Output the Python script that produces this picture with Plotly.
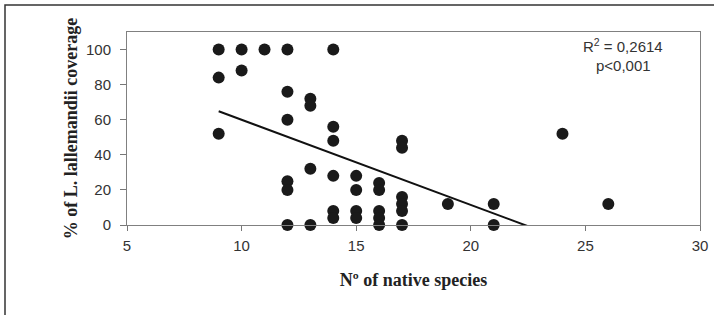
import numpy as np
import plotly.graph_objects as go

# Data
native_species = [9, 9, 9,
                  10, 10,
                  11,
                  12, 12, 12, 12, 12, 12,
                  13, 13, 13, 13,
                  14, 14, 14, 14, 14, 14,
                  15, 15, 15, 15,
                  16, 16, 16, 16, 16,
                  17, 17, 17, 17, 17, 17,
                  19,
                  21, 21,
                  24,
                  26]
coverage = [100, 84, 52,
            100, 88,
            100,
            100, 76, 60, 25, 20, 0,
            72, 68, 32, 0,
            100, 56, 48, 28, 8, 4,
            28, 20, 8, 4,
            24, 20, 8, 4, 0,
            48, 44, 16, 12, 8, 0,
            12,
            12, 0,
            52,
            12]
x_ticks = [5, 10, 15, 20, 25, 30]
y_ticks = [0, 20, 40, 60, 80, 100]

# Linear trendline fitted on the data
slope, intercept = np.polyfit(native_species, coverage, 1)
trend_x = np.array([min(native_species), max(native_species)])
trend_y = slope * trend_x + intercept

W, H = 714, 315
L, R, T, B = 127, 14, 32, 90
pw, ph = W - L - R, H - T - B

fig = go.Figure()
fig.add_trace(go.Scatter(x=trend_x, y=trend_y, mode="lines",
                         line=dict(color="#111111", width=2),
                         hoverinfo="skip", showlegend=False))
fig.add_trace(go.Scatter(x=native_species, y=coverage, mode="markers",
                         marker=dict(size=12, color="#1a1a1a"),
                         cliponaxis=False, showlegend=False))

axis_font = dict(family="Liberation Sans, Arial, sans-serif", size=15, color="#333333")
title_font = dict(family="Liberation Serif, Times New Roman, serif", size=18, color="#222222")

fig.update_xaxes(range=[5, 30], tickvals=x_ticks, ticks="outside", ticklen=5,
                 tickcolor="#777777", showline=True, linecolor="#808080", linewidth=1,
                 mirror=True, showgrid=False, zeroline=False, tickfont=axis_font,
                 ticklabelstandoff=2, automargin=False,
                 title=dict(text="<b>Nº of native species</b>", font=title_font, standoff=20))
fig.update_yaxes(range=[0, 110], tickvals=y_ticks, ticks="outside", ticklen=6,
                 tickcolor="#777777", showline=True, linecolor="#808080", linewidth=1,
                 mirror=True, showgrid=False, zeroline=False, tickfont=axis_font,
                 ticklabelstandoff=6, automargin=False,
                 title=dict(text="<b>% of L. lallemandii coverage</b>", font=title_font, standoff=3))

ann_font = dict(family="Liberation Sans, Arial, sans-serif", size=15, color="#333333")
fig.add_annotation(xref="paper", yref="paper", x=0.866, y=(225 - 45) / ph,
                   xanchor="center", yanchor="middle",
                   text="R<sup>2</sup> = 0,2614", showarrow=False, font=ann_font)
fig.add_annotation(xref="paper", yref="paper", x=0.866, y=(225 - 65) / ph,
                   xanchor="center", yanchor="middle",
                   text="p<0,001", showarrow=False, font=ann_font)

# Outer frame of the chart (extends past right/bottom edges)
fig.add_shape(type="rect", xref="paper", yref="paper",
              x0=(5 - L) / pw, x1=(725 - L) / pw,
              y0=(225 - 325) / ph, y1=(225 - 5) / ph,
              line=dict(color="#333333", width=1.5), layer="below")

fig.update_layout(width=W, height=H, margin=dict(l=L, r=R, t=T, b=B),
                  plot_bgcolor="white", paper_bgcolor="white")

fig.write_html("out.html", config={"displayModeBar": False},
               post_script="document.body.style.margin='0';document.body.style.overflow='hidden';")
